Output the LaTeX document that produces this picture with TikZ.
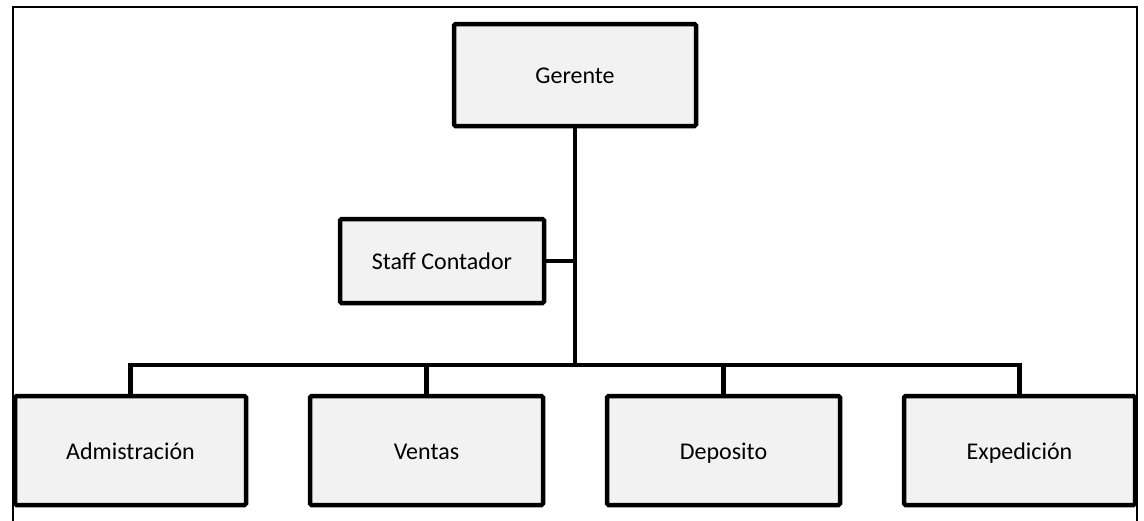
\documentclass[tikz,border=0pt]{standalone}
\usepackage{fontspec}
\setmainfont{Carlito}
\definecolor{boxgray}{HTML}{F2F2F2}
\begin{document}
\begin{tikzpicture}[x=1pt,y=-1pt,
  box/.style={draw, line width=4.5pt, fill=boxgray, rounded corners=1.5pt,
    font=\fontsize{24}{28}\selectfont, inner sep=0pt, text height=20pt, text depth=3pt},
  conn/.style={line width=4.5pt},
  frameline/.style={line width=2.5pt}]
\useasboundingbox (0,0) rectangle (1144,520);
\draw[frameline] (13,522) -- (13,7) -- (1137,7) -- (1137,522);
\node[box, minimum width=242pt, minimum height=102pt] (g) at (575,75) {Gerente};
\node[box, minimum width=204pt, minimum height=84pt] (s) at (442,261) {Staff Contador};
\node[box, minimum width=231pt, minimum height=109pt] (a) at (130.5,450.5) {Admistración};
\node[box, minimum width=233pt, minimum height=109pt] (v) at (426.5,450.5) {Ventas};
\node[box, minimum width=233pt, minimum height=109pt] (d) at (723.5,450.5) {Deposito};
\node[box, minimum width=231pt, minimum height=109pt] (e) at (1019.5,450.5) {Expedición};
\coordinate (bar) at (575,365);
\draw[conn] (g.south) -- (bar);
\draw[conn] (s.east) -- (s.east -| bar);
\draw[conn] (a.north) |- (bar) -| (e.north);
\draw[conn] (v.north) -- (v.north |- bar);
\draw[conn] (d.north) -- (d.north |- bar);
\end{tikzpicture}
\end{document}
